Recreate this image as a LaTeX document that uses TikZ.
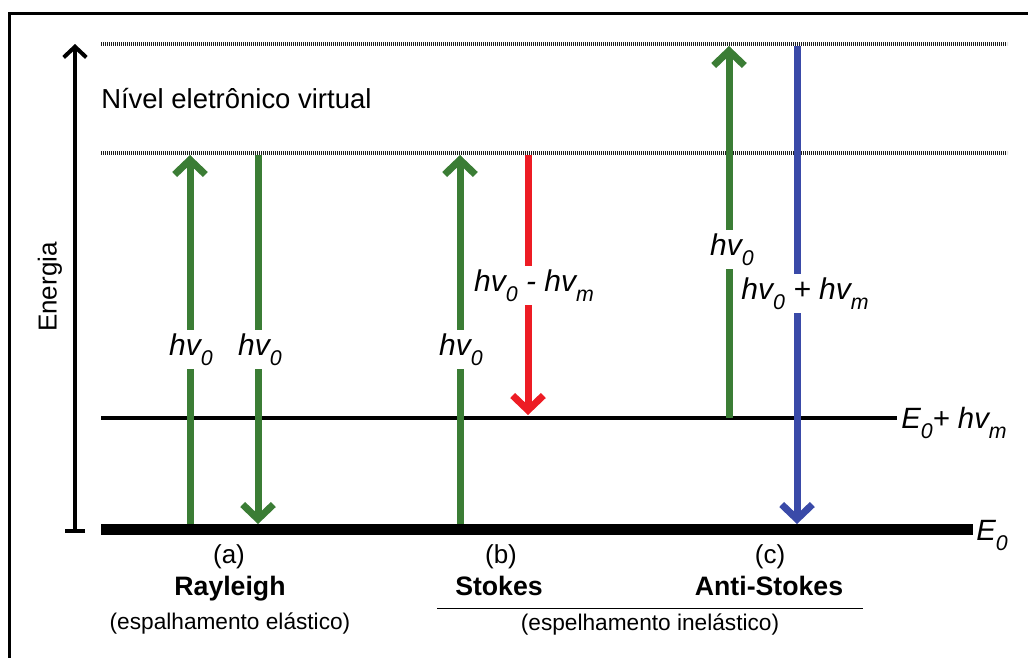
\documentclass[tikz,border=0pt]{standalone}
\usepackage{fontspec}
\setmainfont{Liberation Sans}
\usetikzlibrary{arrows.meta}
\definecolor{rgreen}{RGB}{59,125,53}
\definecolor{rred}{RGB}{237,28,36}
\definecolor{rblue}{RGB}{58,74,168}
\definecolor{dotgray}{RGB}{30,30,30}
\newcommand{\lsub}[1]{\raisebox{-0.36em}{\fontsize{16}{16}\selectfont #1}}
\tikzset{
  frameline/.style={line width=2.25pt, black},
  dotline/.style={line width=3pt, draw=dotgray, dash pattern=on 0.9pt off 0.6pt},
  groundlevel/.style={line width=8.25pt, black},
  viblevel/.style={line width=3pt, black},
  axisline/.style={line width=3pt, black, {Bar[width=15pt]}-{Straight Barb[sharp,length=8pt,width=17pt]}},
  photon/.style={line width=5.25pt, -{Straight Barb[sharp,length=11pt,width=23pt]}},
  hvlabel/.style={fill=white, inner sep=2.5pt, font=\fontsize{22.5}{24}\selectfont\itshape},
  elabel/.style={inner sep=0pt, font=\fontsize{22}{24}\selectfont\itshape},
  letterlabel/.style={inner sep=0pt, font=\fontsize{19.5}{22}\selectfont},
  namelabel/.style={inner sep=0pt, font=\fontsize{20}{22}\selectfont\bfseries},
  notelabel/.style={inner sep=0pt, font=\fontsize{17}{20}\selectfont},
}
\begin{document}
\begin{tikzpicture}[x=0.75pt,y=-0.75pt]
\useasboundingbox (0,0) rectangle (1028,657);
\clip (0,0) rectangle (1028,657);
% outer frame (only top and left visible)
\coordinate (fbl) at (9,700);
\coordinate (ftl) at (9,13);
\coordinate (ftr) at (1100,13);
\draw[frameline] (fbl) -- (ftl) -- (ftr);

% energy axis
\coordinate (axb) at (75,533);
\coordinate (axt) at (75,44);
\draw[axisline] (axb) -- (axt);
\node[rotate=90, inner sep=0pt, font=\fontsize{19.5}{22}\selectfont] (energia) at (50,287) {Energia};

% virtual levels
\coordinate (v1w) at (101,44);  \coordinate (v1e) at (1007,44);
\coordinate (v2w) at (101,153); \coordinate (v2e) at (1007,153);
\draw[dotline] (v1w) -- (v1e);
\draw[dotline] (v2w) -- (v2e);
\node[anchor=base west, inner sep=0pt, font=\fontsize{20.6}{24}\selectfont] (nivel) at (101,108) {Nível eletrônico virtual};

% vibrational level E0 + hv_m
\coordinate (m1w) at (101,418); \coordinate (m1e) at (897,418);
\draw[viblevel] (m1w) -- (m1e);
\node[elabel, anchor=base west] (emlab) at (901,428) {E\lsub{0}+ hv\lsub{m}};

% ground level E0
\coordinate (g0w) at (101,529); \coordinate (g0e) at (973,529);
\draw[groundlevel] (g0w) -- (g0e);
\node[elabel, anchor=base west] (e0lab) at (976,540) {E\lsub{0}};

% Rayleigh
\coordinate (ra1) at (190,524); \coordinate (ra2) at (190,155);
\coordinate (rb1) at (258,155); \coordinate (rb2) at (258,524);
\draw[photon, rgreen] (ra1) -- (ra2);
\draw[photon, rgreen] (rb1) -- (rb2);
\node[hvlabel, anchor=base] (la) at (191,355) {hv\lsub{0}};
\node[hvlabel, anchor=base] (lb) at (260,355) {hv\lsub{0}};

% Stokes
\coordinate (sa1) at (460,524); \coordinate (sa2) at (460,155);
\coordinate (sb1) at (528,155); \coordinate (sb2) at (528,415);
\draw[photon, rgreen] (sa1) -- (sa2);
\draw[photon, rred] (sb1) -- (sb2);
\node[hvlabel, anchor=base] (lc) at (461,355) {hv\lsub{0}};
\node[hvlabel, anchor=base] (ld) at (534,291) {hv\lsub{0} - hv\lsub{m}};

% Anti-Stokes
\coordinate (aa1) at (729,418); \coordinate (aa2) at (729,46);
\coordinate (ab1) at (797,46);  \coordinate (ab2) at (797,524);
\draw[photon, rgreen] (aa1) -- (aa2);
\draw[photon, rblue] (ab1) -- (ab2);
\node[hvlabel, anchor=base] (le) at (732,255) {hv\lsub{0}};
\node[hvlabel, anchor=base] (lf) at (805,299) {hv\lsub{0} + hv\lsub{m}};

% captions
\node[letterlabel, anchor=base] (ca) at (229,563) {(a)};
\node[namelabel, anchor=base] (na) at (230,595) {Rayleigh};
\node[notelabel, anchor=base] (ta) at (230,629) {(espalhamento elástico)};
\node[letterlabel, anchor=base] (cb) at (501,563) {(b)};
\node[namelabel, anchor=base] (nb) at (499,595) {Stokes};
\node[letterlabel, anchor=base] (cc) at (770,563) {(c)};
\node[namelabel, anchor=base] (nc) at (769,595) {Anti-Stokes};
\coordinate (sepw) at (437,608); \coordinate (sepe) at (863,608);
\draw[line width=0.75pt] (sepw) -- (sepe);
\node[notelabel, anchor=base] (tb) at (650,630) {(espelhamento inelástico)};
\end{tikzpicture}
\end{document}
